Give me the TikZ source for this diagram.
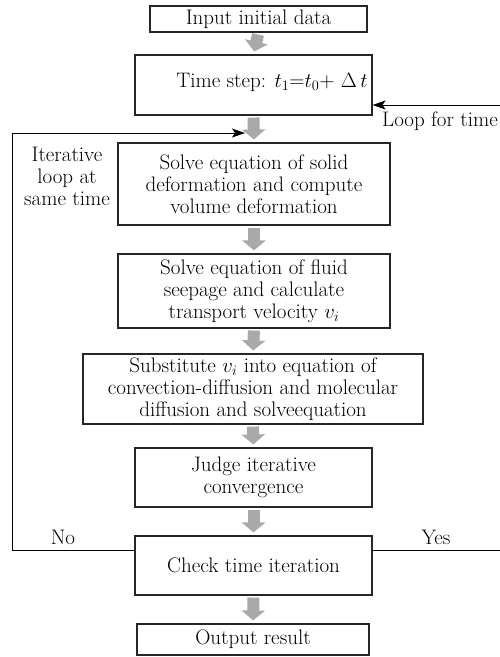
\documentclass[tikz,border=0pt]{standalone}
\usetikzlibrary{arrows.meta}
\definecolor{garr}{HTML}{A9A9A9}
\tikzset{
  box/.style={draw=black!85, line width=1.1pt, rectangle, inner sep=2pt, align=center,
     font=\fontsize{21}{22}\selectfont},
  lbl/.style={align=center, inner sep=0pt, font=\fontsize{21}{22}\selectfont},
  garrow/.style={draw=garr, line width=12pt,
     -{Triangle[length=10pt,width=23pt]}, shorten <=2pt, shorten >=3pt},
  conn/.style={draw=black, line width=1pt},
  carrow/.style={conn, -{Stealth[length=13pt,width=9pt,inset=3pt]}}
}
\begin{document}
\begin{tikzpicture}[x=1pt,y=-1pt]
\useasboundingbox (0,0) rectangle (500,657);
\node[box, minimum width=217pt, minimum height=26pt] (b1) at (258.5,19) {Input initial data};
\node[box, minimum width=237pt, minimum height=60pt] (b2) at (253.5,85) {};
\node[lbl] (b2t) at (272,82) {Time step: $t_1$=$t_0$+ $\Delta\,t$};
\node[box, minimum width=272pt, minimum height=82pt] (b3) at (254,184)
  {Solve equation of solid\\deformation and compute\\volume deformation};
\node[box, minimum width=272pt, minimum height=74pt] (b4) at (254,291)
  {Solve equation of fluid\\seepage and calculate\\transport velocity $v_i$};
\node[box, minimum width=340pt, minimum height=70pt] (b5) at (253,389)
  {Substitute $v_i$ into equation of\\convection-diffusion and molecular\\diffusion and solveequation};
\node[box, minimum width=237pt, minimum height=59pt] (b6) at (253.5,477.5)
  {Judge iterative\\convergence};
\node[box, minimum width=237pt, minimum height=59pt] (b7) at (253.5,565.5)
  {Check time iteration};
\node[box, minimum width=232pt, minimum height=31pt] (b8) at (253,639.5) {Output result};

\draw[garrow] (b1.south) -- (b2.north);
\draw[garrow] (b2.south) -- (b3.north);
\draw[garrow] (b3.south) -- (b4.north);
\draw[garrow] (b4.south) -- (b5.north);
\draw[garrow] (b5.south) -- (b6.north);
\draw[garrow] (b6.south) -- (b7.north);
\draw[garrow] (b7.south) -- (b8.north);

% loop for time
\coordinate (lt) at (500,105);
\draw[carrow] (lt) -- (lt -| b2.east);
\node[lbl, anchor=base west] (ltl) at (382,126) {Loop for time};

% iterative loop
\coordinate (nA) at (135,550);
\coordinate (nB) at (12,550);
\coordinate (nC) at (12,133);
\coordinate (nD) at (245,133);
\draw[carrow] (nA) -- (nB) -- (nC) -- (nD);
\node[lbl] (itl) at (67,176) {Iterative\\loop at\\same time};

% yes line
\coordinate (yA) at (372,550);
\coordinate (yB) at (500,550);
\draw[conn] (yA) -- (yB);
\node[lbl] (no) at (63,537) {No};
\node[lbl] (yes) at (436,537) {Yes};
\end{tikzpicture}
\end{document}
